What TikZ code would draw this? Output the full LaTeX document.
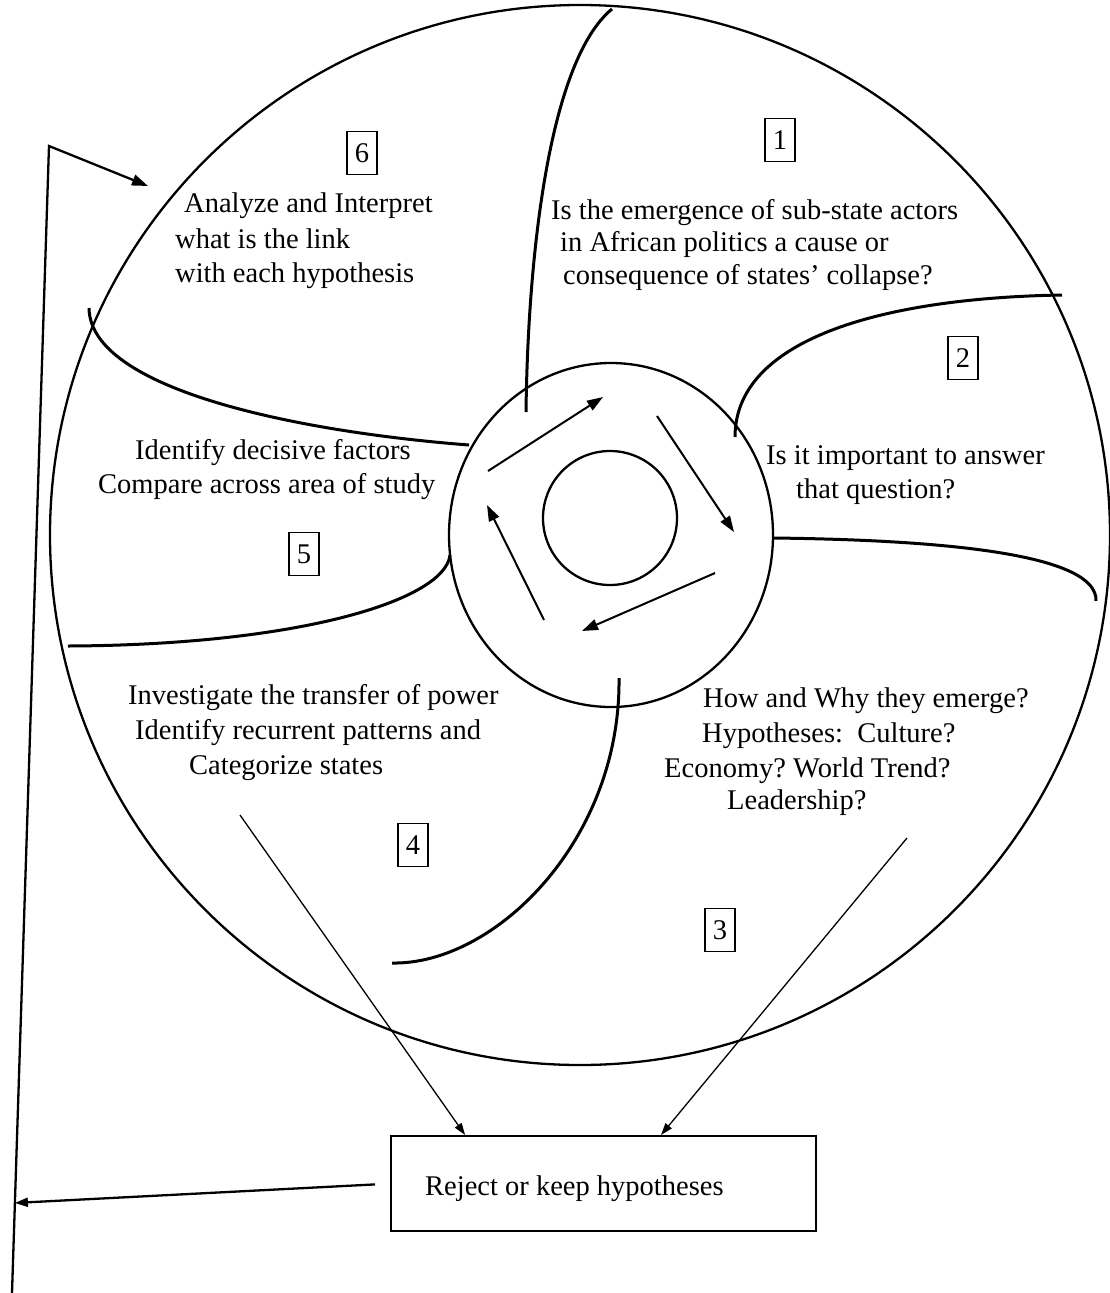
\documentclass[tikz,border=0pt]{standalone}
\usepackage{fontspec}
\setmainfont{Liberation Serif}
\usetikzlibrary{arrows.meta,calc}
\frenchspacing
\begin{document}
\begin{tikzpicture}[x=1bp,y=-1bp,
  font=\fontsize{28.5bp}{33bp}\selectfont,
  txt/.style={inner sep=0pt, anchor=mid west, yshift=-7bp},
  numbox/.style={draw, line width=1.3bp, minimum width=30bp, minimum height=43bp, inner sep=0pt},
  outline/.style={line width=2.3bp},
  divider/.style={line width=3bp},
  cyc/.style={line width=2bp, -{Triangle[length=16bp,width=11bp]}},
  thinarrow/.style={line width=1.3bp, -{Triangle[length=12bp,width=8bp]}},
  loopline/.style={line width=2.3bp},
]
\useasboundingbox (0,0) rectangle (1110,1293);
\clip (0,0) rectangle (1110,1293);
\fill[white] (0,0) rectangle (1110,1293);

% outer circle, ring, hub
\draw[outline] (580,535) circle [radius=530];
\draw[outline] (611,535) ellipse [x radius=162, y radius=172];
\draw[outline] (610,518) circle [radius=67];

% cycle arrows inside the ring
\coordinate (r1s) at (488,471); \coordinate (r1e) at (603,397);
\coordinate (r2s) at (657,416); \coordinate (r2e) at (734,532);
\coordinate (r3s) at (715,573); \coordinate (r3e) at (582,631);
\coordinate (r4s) at (544,620); \coordinate (r4e) at (487,505);
\draw[cyc] (r1s) -- (r1e);
\draw[cyc] (r2s) -- (r2e);
\draw[cyc] (r3s) -- (r3e);
\draw[cyc] (r4s) -- (r4e);

% dividing curves
\draw[divider] (526,412) .. controls (528,250) and (550,60) .. (612,9);
\draw[divider] (735,437) .. controls (735,340) and (880,298) .. (1062,295);
\draw[divider] (773,538) .. controls (950,540) and (1098,555) .. (1096,601);
\draw[divider] (619,678) .. controls (621,840) and (495,965) .. (392,963);
\draw[divider] (450,555) .. controls (445,600) and (300,645) .. (68,646);
\draw[divider] (469,445) .. controls (300,432) and (90,390) .. (89,308);

% number boxes
\node[numbox] (b1) at (780,140) {1};
\node[numbox] (b2) at (963,358) {2};
\node[numbox] (b3) at (720,930) {3};
\node[numbox] (b4) at (413,845) {4};
\node[numbox] (b5) at (304,554) {5};
\node[numbox] (b6) at (362,153) {6};

% texts
\node[txt] (t6a) at (184,203) {Analyze and Interpret};
\node[txt] (t6b) at (175,239) {what is the link};
\node[txt] (t6c) at (175,273) {with each hypothesis};
\node[txt] (t1a) at (551,210) {Is the emergence of sub-state actors};
\node[txt] (t1b) at (560,242) {in African politics a cause or};
\node[txt] (t1c) at (563,275) {consequence of states’ collapse?};
\node[txt] (t2a) at (766,455) {Is it important to answer};
\node[txt] (t2b) at (796,489) {that question?};
\node[txt] (t5a) at (135,450) {Identify decisive factors};
\node[txt] (t5b) at (98,484) {Compare across area of study};
\node[txt] (t4a) at (128,695) {Investigate the transfer of power};
\node[txt] (t4b) at (135,730) {Identify recurrent patterns and};
\node[txt] (t4c) at (189,765) {Categorize states};
\node[txt] (t3a) at (703,698) {How and Why they emerge?};
\node[txt] (t3b) at (702,733) {Hypotheses:\ \ Culture?};
\node[txt] (t3c) at (664,768) {Economy? World Trend?};
\node[txt] (t3d) at (727,800) {Leadership?};

% decision box
\node[draw, line width=1.8bp, minimum width=425bp, minimum height=95bp, anchor=north west, inner sep=0pt] (box) at (390,1135) {};
\node[txt] (boxtxt) at (425,1186) {Reject or keep hypotheses};

\coordinate (a4) at (240,815);
\coordinate (a3) at (907,838);
\draw[thinarrow] (a4) -- ($(box.north west)!0.176!(box.north east)$);
\draw[thinarrow] (a3) -- ($(box.north west)!0.635!(box.north east)$);

% feedback loop
\coordinate (lb) at (12,1293);
\coordinate (lt) at (49,146);
\coordinate (lae) at (148,186);
\coordinate (lc) at ($(lb)!0.0785!(lt)$);
\draw[loopline, -{Triangle[length=16bp,width=11bp]}] (lb) -- (lt) -- (lae);
\draw[loopline, -{Triangle[length=13bp,width=9bp]}] ($(box.west)+(-15,1)$) -- (lc);
\end{tikzpicture}
\end{document}
